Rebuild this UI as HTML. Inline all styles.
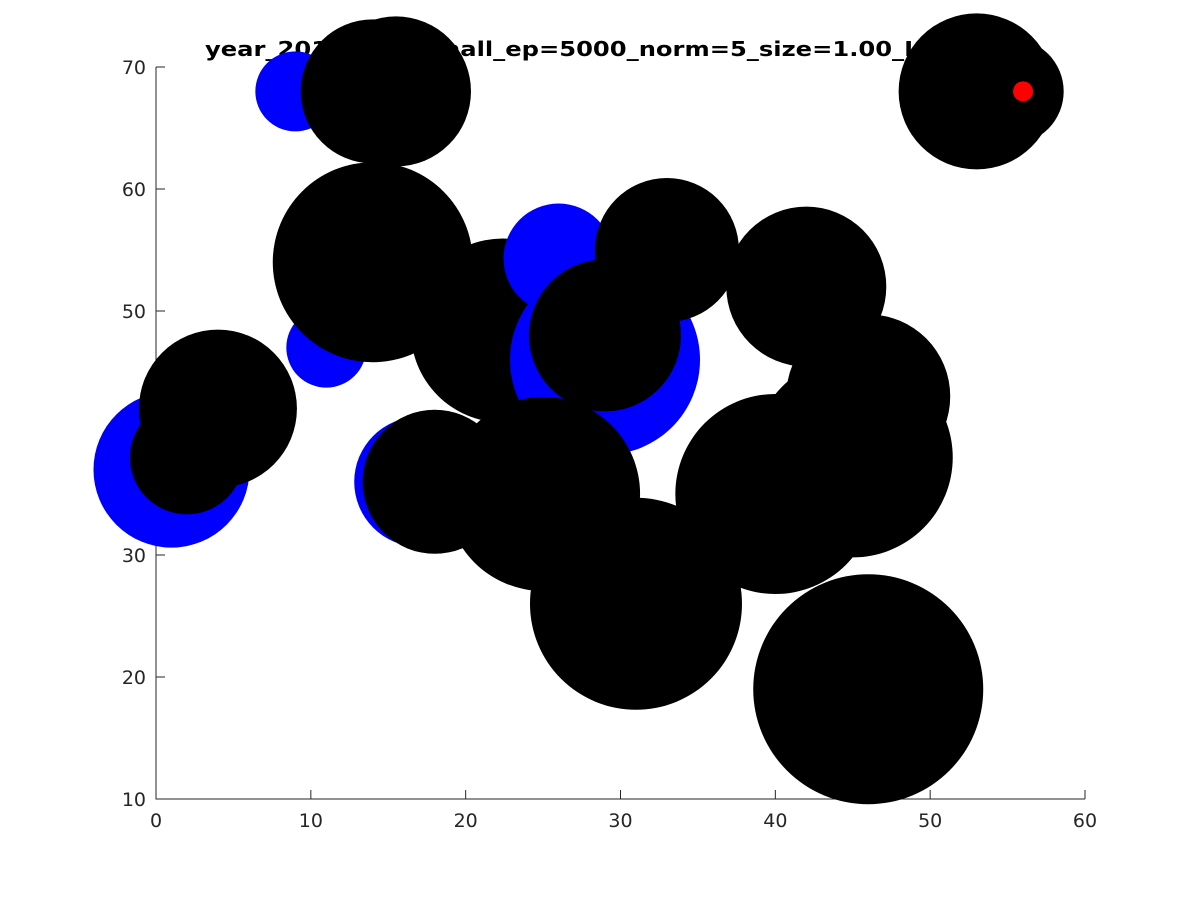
<!DOCTYPE html>
<html><head><meta charset="utf-8"><style>
html,body{margin:0;padding:0;background:#fff;}
svg{display:block;font-family:"DejaVu Sans","Liberation Sans",sans-serif;}
</style></head><body>
<svg id="chart" width="1200" height="900" viewBox="0 0 1200 900"></svg>
<script>
// data (drawn in order)
const xs     = [22.4, 1, 9, 11, 17, 26, 29, 43, 41.6, 14, 15.5, 53, 55.2, 14, 4, 2, 25, 18, 29, 33, 31, 42, 40, 46, 45, 46, 56];
const ys     = [48.4, 37, 68, 47, 36, 54.3, 46, 52, 38.2, 68, 68, 68, 68, 54, 42, 38, 35, 36, 48, 55, 26, 52, 35, 43, 38, 19, 68];
const sizes  = [92, 78, 40, 40, 65, 55, 95, 16, 50, 72, 75, 78, 53, 100, 79, 57, 97, 72, 76, 72, 106, 80, 100, 82, 100, 115, 10];
const colors = ["black","blue","blue","blue","blue","blue","blue","blue","blue","black","black","black","black","black","black","black","black","black","black","black","black","black","black","black","black","black","red"];
const xTicks = [0,10,20,30,40,50,60];
const yTicks = [10,20,30,40,50,60,70];

const svg = document.getElementById('chart');
const NS = 'http://www.w3.org/2000/svg';
const L=156, R=1085, T=67, B=799;
const sx = v => L + (v-0)/(60-0)*(R-L);
const sy = v => B - (v-10)/(70-10)*(B-T);
function mk(tag, attrs){const e=document.createElementNS(NS,tag);for(const k in attrs)e.setAttribute(k,attrs[k]);svg.appendChild(e);return e;}

// title
const title = mk('text',{x:205,y:56,'font-size':20,'font-weight':'bold',fill:'#000',textLength:830,lengthAdjust:'spacingAndGlyphs'});


title.textContent='year_2016_dist_small_ep=5000_norm=5_size=1.00_LR=0.001';

// axes
const ax = mk('path',{d:`M${L},${T} L${L},${B} L${R},${B}`,stroke:'#262626',fill:'none','stroke-width':1});


xTicks.forEach(t=>{
  const l=mk('line',{x1:sx(t),x2:sx(t),y1:B,y2:B-9,stroke:'#262626'});
  
  
  const tx=mk('text',{x:sx(t),y:B+28,'font-size':19,'text-anchor':'middle',fill:'#262626'});
  
  
  tx.textContent=t;
});
yTicks.forEach(t=>{
  const l=mk('line',{x1:L,x2:L+9,y1:sy(t),y2:sy(t),stroke:'#262626'});
  
  
  const tx=mk('text',{x:L-10,y:sy(t)+7,'font-size':19,'text-anchor':'end',fill:'#262626'});
  
  
  tx.textContent=t;
});

// bubbles
xs.forEach((x,i)=>{
  const c=mk('circle',{cx:sx(x),cy:sy(ys[i]),r:sizes[i],fill:colors[i]});
  
  
});
</script>
</body></html>
